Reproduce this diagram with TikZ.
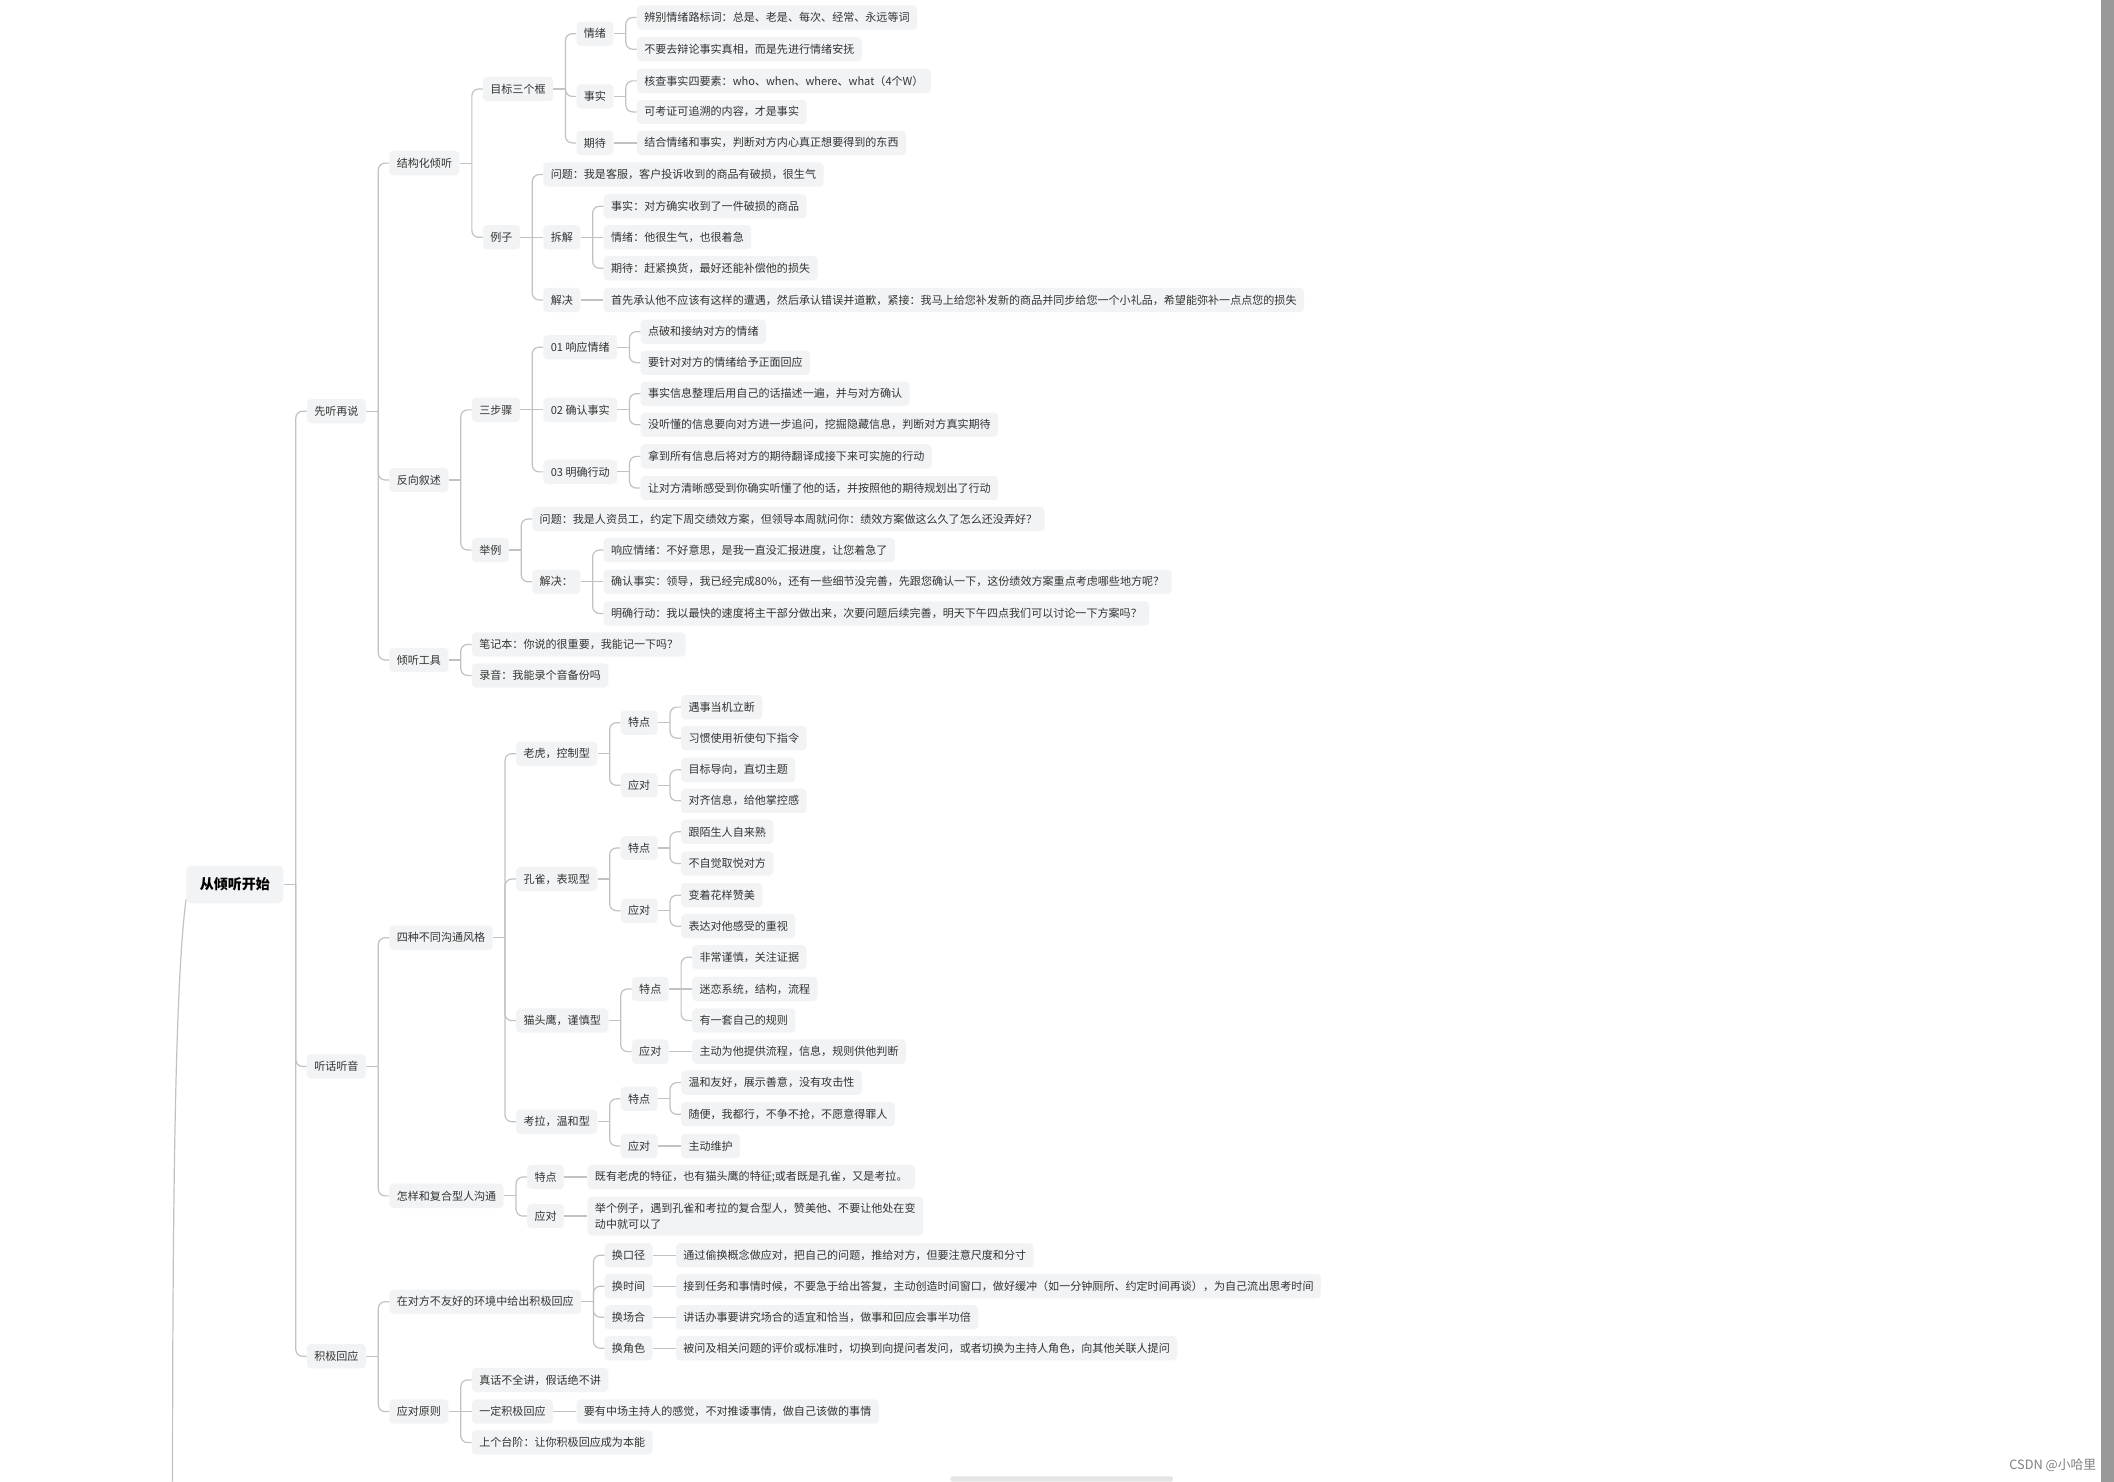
\documentclass[tikz,border=0pt]{standalone}
\usepackage{fontspec}
\usetikzlibrary{calc}
\newfontfamily\cjk{Noto Sans CJK SC}
\definecolor{boxbg}{HTML}{F2F3F5}
\definecolor{txt}{HTML}{333333}
\definecolor{ln}{HTML}{C2C2C2}
\tikzset{
  nd/.style={fill=boxbg, rounded corners=3pt, inner xsep=5.5pt, inner ysep=0pt,
    minimum height=18pt, anchor=west, text=txt, font=\cjk\fontsize{8.2}{11.5}\selectfont},
  rootnd/.style={fill=boxbg, rounded corners=4pt, inner xsep=10pt, inner ysep=0pt,
    minimum height=28pt, anchor=west, text=black, font=\cjk\bfseries\fontsize{10.4}{12}\selectfont},
  conn/.style={draw=ln, line width=0.9pt, rounded corners=5pt},
  sconn/.style={draw=ln, line width=0.9pt},
}
% junction after a parent node
\newcommand\mmjunc[1]{%
  \coordinate (j#1) at ([xshift=9pt]#1.east);
  \coordinate (k#1) at ([xshift=17pt]#1.east);
  \draw[sconn] (#1.east) -- (j#1);}
% child of parent #1 above or below it: name #2, y #3, text #4
\newcommand\mmkid[4]{%
  \node[nd] (#2) at (k#1 |- 0,#3) {#4};
  \draw[conn] (j#1) |- (#2.west);}
% child of parent #1 level with it
\newcommand\mmstr[3]{%
  \node[nd] (#2) at (k#1 |- #1.east) {#3};
  \draw[sconn] (j#1) -- (#2.west);}
\begin{document}
\begin{tikzpicture}[x=1pt,y=-1pt]
\useasboundingbox (0,0) rectangle (1568,1099);
\fill[white] (0,0) rectangle (1568,1099);
% scroll bars
\fill[black!40] (1558,0) rectangle (1568,1099);
\fill[black!10, rounded corners=1.5pt] (705,1095) rectangle (870,1099);
% root
\node[rootnd] (root) at (138,656) {从倾听开始};
\coordinate (rootend) at (128,1099);
\draw[sconn] ([yshift=3pt]root.south west) .. controls (131,720) and (128,850) .. (rootend);
\mmjunc{root}
\mmkid{root}{a1}{305}{先听再说}
\mmkid{root}{a2}{791}{听话听音}
\mmkid{root}{a3}{1006}{积极回应}
% ---- 先听再说
\mmjunc{a1}
\mmkid{a1}{b1}{121}{结构化倾听}
\mmkid{a1}{b2}{356}{反向叙述}
\mmkid{a1}{b3}{489.5}{倾听工具}
% 结构化倾听
\mmjunc{b1}
\mmkid{b1}{c1}{66}{目标三个框}
\mmkid{b1}{c2}{176}{例子}
\mmjunc{c1}
\mmkid{c1}{d1}{25}{情绪}
\mmkid{c1}{d2}{71.5}{事实}
\mmkid{c1}{d3}{106}{期待}
\mmjunc{d1}
\mmkid{d1}{r0}{13}{辨别情绪路标词：总是、老是、每次、经常、永远等词}
\mmkid{d1}{r1}{36.5}{不要去辩论事实真相，而是先进行情绪安抚}
\mmjunc{d2}
\mmkid{d2}{r2}{60}{核查事实四要素：who、when、where、what（4个W）}
\mmkid{d2}{r3}{83}{可考证可追溯的内容，才是事实}
\mmjunc{d3}
\mmstr{d3}{r4}{结合情绪和事实，判断对方内心真正想要得到的东西}
\mmjunc{c2}
\mmkid{c2}{r5}{129.5}{问题：我是客服，客户投诉收到的商品有破损，很生气}
\mmstr{c2}{d4}{拆解}
\mmkid{c2}{d5}{222.5}{解决}
\mmjunc{d4}
\mmkid{d4}{r6}{153}{事实：对方确实收到了一件破损的商品}
\mmstr{d4}{r7}{情绪：他很生气，也很着急}
\mmkid{d4}{r8}{199}{期待：赶紧换货，最好还能补偿他的损失}
\mmjunc{d5}
\mmstr{d5}{r9}{首先承认他不应该有这样的遭遇，然后承认错误并道歉，紧接：我马上给您补发新的商品并同步给您一个小礼品，希望能弥补一点点您的损失}
% 反向叙述
\mmjunc{b2}
\mmkid{b2}{c3}{304}{三步骤}
\mmkid{b2}{c4}{408}{举例}
\mmjunc{c3}
\mmkid{c3}{d6}{257.5}{01 响应情绪}
\mmstr{c3}{d7}{02 确认事实}
\mmkid{c3}{d8}{350}{03 明确行动}
\mmjunc{d6}
\mmkid{d6}{r10}{246}{点破和接纳对方的情绪}
\mmkid{d6}{r11}{269}{要针对对方的情绪给予正面回应}
\mmjunc{d7}
\mmkid{d7}{r12}{292}{事实信息整理后用自己的话描述一遍，并与对方确认}
\mmkid{d7}{r13}{315}{没听懂的信息要向对方进一步追问，挖掘隐藏信息，判断对方真实期待}
\mmjunc{d8}
\mmkid{d8}{r14}{338.5}{拿到所有信息后将对方的期待翻译成接下来可实施的行动}
\mmkid{d8}{r15}{362}{让对方清晰感受到你确实听懂了他的话，并按照他的期待规划出了行动}
\mmjunc{c4}
\mmkid{c4}{r16}{385}{问题：我是人资员工，约定下周交绩效方案，但领导本周就问你：绩效方案做这么久了怎么还没弄好？}
\mmkid{c4}{d9}{431.5}{解决：}
\mmjunc{d9}
\mmkid{d9}{r17}{408}{响应情绪：不好意思，是我一直没汇报进度，让您着急了}
\mmstr{d9}{r18}{确认事实：领导，我已经完成80\%，还有一些细节没完善，先跟您确认一下，这份绩效方案重点考虑哪些地方呢？}
\mmkid{d9}{r19}{455}{明确行动：我以最快的速度将主干部分做出来，次要问题后续完善，明天下午四点我们可以讨论一下方案吗？}
% 倾听工具
\mmjunc{b3}
\mmkid{b3}{r20}{478}{笔记本：你说的很重要，我能记一下吗？}
\mmkid{b3}{r21}{501}{录音：我能录个音备份吗}
% ---- 听话听音
\mmjunc{a2}
\mmkid{a2}{b4}{695.5}{四种不同沟通风格}
\mmkid{a2}{b5}{887}{怎样和复合型人沟通}
\mmjunc{b4}
\mmkid{b4}{c5}{559}{老虎，控制型}
\mmkid{b4}{c6}{652}{孔雀，表现型}
\mmkid{b4}{c7}{757}{猫头鹰，谨慎型}
\mmkid{b4}{c8}{832}{考拉，温和型}
\mmjunc{c5}
\mmkid{c5}{e1}{536}{特点}
\mmkid{c5}{e2}{582.5}{应对}
\mmjunc{e1}
\mmkid{e1}{r22}{524.5}{遇事当机立断}
\mmkid{e1}{r23}{547.5}{习惯使用祈使句下指令}
\mmjunc{e2}
\mmkid{e2}{r24}{571}{目标导向，直切主题}
\mmkid{e2}{r25}{594}{对齐信息，给他掌控感}
\mmjunc{c6}
\mmkid{c6}{e3}{629}{特点}
\mmkid{c6}{e4}{675.5}{应对}
\mmjunc{e3}
\mmkid{e3}{r26}{617}{跟陌生人自来熟}
\mmkid{e3}{r27}{640.5}{不自觉取悦对方}
\mmjunc{e4}
\mmkid{e4}{r28}{664}{变着花样赞美}
\mmkid{e4}{r29}{687}{表达对他感受的重视}
\mmjunc{c7}
\mmkid{c7}{e5}{733.5}{特点}
\mmkid{c7}{e6}{780}{应对}
\mmjunc{e5}
\mmkid{e5}{r30}{710}{非常谨慎，关注证据}
\mmstr{e5}{r31}{迷恋系统，结构，流程}
\mmkid{e5}{r32}{757}{有一套自己的规则}
\mmjunc{e6}
\mmstr{e6}{r33}{主动为他提供流程，信息，规则供他判断}
\mmjunc{c8}
\mmkid{c8}{e7}{815}{特点}
\mmkid{c8}{e8}{850}{应对}
\mmjunc{e7}
\mmkid{e7}{r34}{803}{温和友好，展示善意，没有攻击性}
\mmkid{e7}{r35}{826.5}{随便，我都行，不争不抢，不愿意得罪人}
\mmjunc{e8}
\mmstr{e8}{r36}{主动维护}
\mmjunc{b5}
\mmkid{b5}{c9}{873}{特点}
\mmkid{b5}{c10}{902}{应对}
\mmjunc{c9}
\mmstr{c9}{r37}{既有老虎的特征，也有猫头鹰的特征;或者既是孔雀，又是考拉。}
\mmjunc{c10}
\node[nd, align=left, minimum height=29pt] (r38) at (kc10 |- c10.east) {举个例子，遇到孔雀和考拉的复合型人，赞美他、不要让他处在变\\动中就可以了};
\draw[sconn] (jc10) -- (r38.west);
% ---- 积极回应
\mmjunc{a3}
\mmkid{a3}{b6}{965.5}{在对方不友好的环境中给出积极回应}
\mmkid{a3}{b7}{1047}{应对原则}
\mmjunc{b6}
\mmkid{b6}{c11}{931}{换口径}
\mmkid{b6}{c12}{954}{换时间}
\mmkid{b6}{c13}{977}{换场合}
\mmkid{b6}{c14}{1000}{换角色}
\mmjunc{c11}
\mmstr{c11}{r39}{通过偷换概念做应对，把自己的问题，推给对方，但要注意尺度和分寸}
\mmjunc{c12}
\mmstr{c12}{r40}{接到任务和事情时候，不要急于给出答复，主动创造时间窗口，做好缓冲（如一分钟厕所、约定时间再谈），为自己流出思考时间}
\mmjunc{c13}
\mmstr{c13}{r41}{讲话办事要讲究场合的适宜和恰当，做事和回应会事半功倍}
\mmjunc{c14}
\mmstr{c14}{r42}{被问及相关问题的评价或标准时，切换到向提问者发问，或者切换为主持人角色，向其他关联人提问}
\mmjunc{b7}
\mmkid{b7}{c15}{1023.5}{真话不全讲，假话绝不讲}
\mmstr{b7}{c16}{一定积极回应}
\mmkid{b7}{c17}{1070}{上个台阶：让你积极回应成为本能}
\mmjunc{c16}
\mmstr{c16}{r43}{要有中场主持人的感觉，不对推诿事情，做自己该做的事情}
% watermark
\node[anchor=east, text=black!50, font=\cjk\fontsize{9.5}{11}\selectfont, inner sep=0pt] (wm) at (1555,1087) {CSDN @小哈里};
\end{tikzpicture}
\end{document}
